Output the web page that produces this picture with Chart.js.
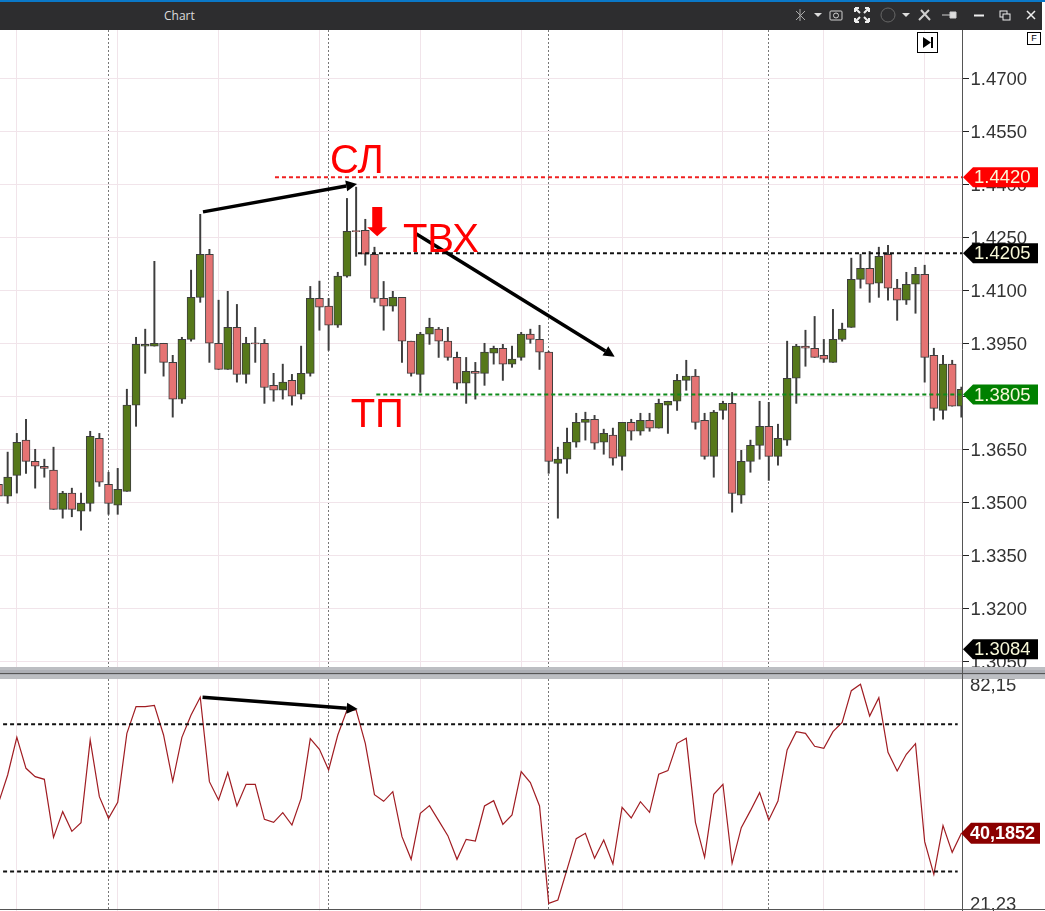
<!DOCTYPE html>
<html>
<head>
<meta charset="utf-8">
<title>Chart</title>
<script src="https://cdn.jsdelivr.net/npm/chart.js@4"></script>
<style>
  html, body { margin: 0; padding: 0; background: #fff; overflow: hidden; }
  #win { position: relative; width: 1045px; height: 911px; overflow: hidden; }
  canvas { position: absolute; left: 0; }
  #topBlue { position: absolute; left: 0; top: 0; width: 1045px; height: 2px; background: #0a78c8; }
  #bar { position: absolute; left: 0; top: 2px; width: 1042px; height: 28px; background: #2d2d2f; }
  #barTitle { position: absolute; left: 164px; top: 5px; color: #dcdcdc; font: 12px "Open Sans", sans-serif; }
  #bar svg { position: absolute; left: 0; top: -2px; }
  #sep { position: absolute; left: 0; top: 667px; width: 1045px; height: 12px; background: #bcbec2; }
  #sep div { position: absolute; left: 0; top: 3px; width: 100%; height: 5px; background: #adafb5; border-bottom: 0; }
  #sep span { position: absolute; left: 0; top: 6px; width: 100%; height: 1px; background: #555; }
  #bottomLine { position: absolute; left: 0; top: 909px; width: 1045px; height: 1px; background: #555; }
  #sepAxis { position: absolute; left: 962px; top: 667px; width: 1px; height: 12px; background: #555; }
  #jump { position: absolute; left: 917px; top: 32px; width: 19px; height: 19px; border: 1px solid #000; background: #fff; }
  #flag { position: absolute; left: 1027px; top: 32px; width: 12px; height: 11px; border: 1px solid #000; background: #fff;
          font: 9px "Liberation Sans", sans-serif; text-align: center; line-height: 11px; color: #000; }
</style>
</head>
<body>
<div id="win">
  <canvas id="priceChart" width="1045" height="638" style="top:30px"></canvas>
  <canvas id="rsiChart" width="1045" height="232" style="top:679px"></canvas>
  <div id="topBlue"></div>
  <div id="bar">
    <span id="barTitle">Chart</span>
    <svg width="1042" height="30" fill="none" stroke="#d0d0d0" stroke-width="1.5">
      <path d="M796 11l9 9M805 11l-9 9M800 9v12" stroke="#aaa" stroke-width="1"/>
      <path d="M814 13h8l-4 4z" fill="#ddd" stroke="none"/>
      <rect x="830" y="11" width="12" height="9" rx="1" stroke-width="1"/><circle cx="836" cy="15.5" r="2.5" stroke-width="1"/>
      <path d="M855 8l5 5M855 8h4M855 8v4M869 8l-5 5M869 8h-4M869 8v4M855 22l5-5M855 22h4M855 22v-4M869 22l-5-5M869 22h-4M869 22v-4" stroke="#eee" stroke-width="2"/>
      <circle cx="888" cy="15" r="7" stroke="#666" stroke-width="1"/>
      <path d="M902 13h8l-4 4z" fill="#ddd" stroke="none"/>
      <path d="M919 20l10-10M921 10l9 10" stroke-width="2"/>
      <path d="M942 15h8M950 12h6v6h-6z" fill="#ddd" stroke-width="1"/>
      <path d="M974 15.5h10" stroke="#eee" stroke-width="2"/>
      <rect x="1000" y="11" width="7" height="6" stroke="#eee" stroke-width="1"/><rect x="1003" y="14" width="7" height="6" fill="#2d2d2f" stroke="#eee" stroke-width="1"/>
      <path d="M1027 11l8 8M1035 11l-8 8" stroke="#eee" stroke-width="1.5"/>
    </svg>
  </div>
  <div id="sep"><div></div><span></span></div>
  <div id="sepAxis"></div>
  <div id="bottomLine"></div>
  <div id="jump"><svg width="19" height="19"><path d="M5 4l8 5.5l-8 5.5z" fill="#000"/><rect x="13" y="4" width="2" height="11" fill="#000"/></svg></div>
  <div id="flag">F</div>
</div>
<script>
// first bar in the arrays is number -1, it is cut by the left edge
const firstBar = -1;
const opens = [1.3551,1.3517,1.3576,1.3676,1.3616,1.3602,1.3591,1.3480,1.3526,1.3475,1.3497,1.3681,1.3551,1.3492,1.3531,1.3775,1.3942,1.3942,1.3950,1.3896,1.3792,1.3961,1.4080,1.4202,1.3950,1.3876,1.3995,1.3862,1.3951,1.3950,1.3831,1.3817,1.3845,1.3806,1.3865,1.4077,1.4055,1.4001,1.4140,1.4269,1.4270,1.4202,1.4077,1.4055,1.4080,1.3956,1.3862,1.3976,1.3990,1.3956,1.3910,1.3837,1.3871,1.3865,1.3922,1.3936,1.3891,1.3910,1.3976,1.3961,1.3925,1.3610,1.3622,1.3670,1.3726,1.3735,1.3670,1.3690,1.3630,1.3726,1.3701,1.3732,1.3710,1.3775,1.3786,1.3845,1.3857,1.3732,1.3630,1.3760,1.3780,1.3520,1.3616,1.3661,1.3715,1.3630,1.3676,1.3851,1.3942,1.3936,1.3916,1.3896,1.3961,1.3995,1.4131,1.4162,1.4120,1.4202,1.4106,1.4072,1.4117,1.4145,1.3916,1.3760,1.3891,1.3772];
const highs = [1.3570,1.3642,1.3695,1.3735,1.3650,1.3622,1.3656,1.3531,1.3540,1.3526,1.3701,1.3695,1.3585,1.3596,1.3820,1.3967,1.3990,1.4182,1.3950,1.3916,1.3967,1.4157,1.4315,1.4216,1.4072,1.4097,1.4060,1.3967,1.3995,1.3961,1.3865,1.3891,1.3862,1.3942,1.4111,1.4126,1.4077,1.4151,1.4360,1.4392,1.4301,1.4222,1.4125,1.4097,1.4080,1.3956,1.3981,1.4021,1.3995,1.3995,1.3925,1.3910,1.3896,1.3950,1.3942,1.3947,1.3942,1.3981,1.3990,1.4001,1.3927,1.3656,1.3710,1.3752,1.3755,1.3746,1.3707,1.3710,1.3726,1.3735,1.3752,1.3752,1.3792,1.3786,1.3862,1.3902,1.3876,1.3752,1.3760,1.3786,1.3811,1.3647,1.3676,1.3786,1.3783,1.3721,1.3956,1.3947,1.3987,1.4026,1.3961,1.4046,1.4007,1.4191,1.4202,1.4210,1.4222,1.4227,1.4131,1.4151,1.4165,1.4171,1.3936,1.3916,1.3902,1.3826];
const lows = [1.3505,1.3497,1.3526,1.3582,1.3540,1.3571,1.3480,1.3455,1.3459,1.3421,1.3475,1.3545,1.3466,1.3466,1.3531,1.3715,1.3865,1.3942,1.3857,1.3741,1.3780,1.3956,1.4066,1.3896,1.3876,1.3876,1.3840,1.3837,1.3896,1.3780,1.3786,1.3792,1.3775,1.3792,1.3857,1.3987,1.3930,1.3995,1.4137,1.4196,1.4171,1.4066,1.3987,1.4041,1.3896,1.3857,1.3811,1.3947,1.3910,1.3902,1.3820,1.3780,1.3792,1.3831,1.3891,1.3845,1.3882,1.3902,1.3950,1.3876,1.3582,1.3455,1.3582,1.3656,1.3676,1.3650,1.3636,1.3605,1.3591,1.3676,1.3690,1.3701,1.3710,1.3695,1.3760,1.3817,1.3707,1.3622,1.3571,1.3735,1.3472,1.3497,1.3585,1.3622,1.3562,1.3605,1.3661,1.3780,1.3885,1.3910,1.3896,1.3896,1.3956,1.3995,1.4106,1.4066,1.4080,1.4072,1.4015,1.4060,1.4035,1.3840,1.3732,1.3735,1.3772,1.3741];
const closes = [1.3517,1.3571,1.3670,1.3616,1.3602,1.3596,1.3480,1.3526,1.3480,1.3497,1.3687,1.3557,1.3497,1.3537,1.3775,1.3947,1.3947,1.3950,1.3896,1.3792,1.3961,1.4080,1.4202,1.3950,1.3876,1.3995,1.3862,1.3950,1.3948,1.3825,1.3817,1.3840,1.3800,1.3865,1.4077,1.4052,1.4001,1.4140,1.4267,1.4266,1.4202,1.4077,1.4055,1.4080,1.3956,1.3865,1.3976,1.3995,1.3956,1.3910,1.3837,1.3871,1.3865,1.3925,1.3936,1.3891,1.3905,1.3976,1.3961,1.3925,1.3616,1.3622,1.3670,1.3726,1.3735,1.3667,1.3695,1.3625,1.3726,1.3701,1.3732,1.3710,1.3780,1.3786,1.3845,1.3857,1.3726,1.3630,1.3755,1.3780,1.3525,1.3616,1.3661,1.3715,1.3630,1.3681,1.3851,1.3942,1.3936,1.3910,1.3905,1.3961,1.3990,1.4131,1.4162,1.4117,1.4196,1.4106,1.4072,1.4117,1.4145,1.3910,1.3766,1.3891,1.3772,1.3820];
const rsiValues = [49.13,56.92,67.40,58.78,56.46,55.72,39.58,46.72,41.25,43.66,66.66,50.89,44.87,49.32,68.51,75.93,75.93,76.30,68.05,55.16,67.40,73.61,78.53,55.07,49.97,57.57,48.30,54.33,54.33,44.59,43.76,46.44,43.01,50.43,67.03,64.06,58.31,68.05,75.00,75.00,65.73,51.45,49.60,52.29,39.77,33.46,46.26,48.39,44.22,40.05,33.46,39.03,38.56,48.30,49.78,43.20,45.80,57.85,54.79,48.30,21.23,22.15,30.68,39.21,40.70,33.74,38.84,32.17,47.93,44.96,49.50,46.54,57.11,58.13,65.73,67.12,43.76,34.02,51.54,54.33,32.35,42.27,47.00,52.01,44.40,49.69,63.88,68.98,68.51,64.90,64.34,68.98,71.57,80.38,82.15,73.33,78.43,63.23,58.03,62.67,65.64,38.38,29.29,42.83,35.41,40.70];

const priceTicks = [1.47,1.455,1.44,1.425,1.41,1.395,1.38,1.365,1.35,1.335,1.32,1.305];
const rsiTicks = [82.15,21.23];
const rsiLevels = [71.0,30.1];
const pinkBars = [1,12,23,34,45,56,67,78,89,100];
const dottedBars = [11,35,59,83];

const stopLoss = 1.4420, entry = 1.4205, takeProfit = 1.3805, lastLow = 1.3084;
const rsiTag = 40.7, rsiTagText = "40,1852";

const barNumbers = opens.map((v, i) => i + firstBar);
const xMin = -0.836, xMax = 104.07;

const UP = "#56781a", DOWN = "#e57373", EDGE = "#3d3d3d";
const PINK = "#f1e4ea";

function levelLine(fromBar, toBar, value, color) {
  return {
    type: "line",
    data: [{x: fromBar, y: value}, {x: toBar, y: value}],
    borderColor: color, borderWidth: 2, borderDash: [4, 3],
    pointRadius: 0, order: 0,
  };
}

function xAxis() {
  return {
    type: "linear", min: xMin, max: xMax, offset: false,
    afterBuildTicks: s => { s.ticks = pinkBars.concat(dottedBars).map(v => ({value: v})); },
    afterFit: s => { s.height = 0; s.paddingLeft = s.paddingRight = 0; },
    ticks: {display: false},
    border: {display: false, dash: c => (c.tick && dottedBars.includes(c.tick.value)) ? [2, 2] : []},
    grid: {
      offset: false,
      drawTicks: false,
      color: c => (c.tick && dottedBars.includes(c.tick.value)) ? "#777" : PINK,
    },
  };
}

// labels must not push the plot area in, the scales fill the canvas
function yFit(s) {
  s.width = 83;
  s.paddingTop = s.paddingBottom = 0;
}

function tag(ctx, tipX, y, rightX, h, color, text, textX, textColor, font) {
  ctx.save();
  ctx.fillStyle = color;
  ctx.beginPath();
  ctx.moveTo(tipX, y);
  ctx.lineTo(tipX + 10, y - h / 2);
  ctx.lineTo(rightX, y - h / 2);
  ctx.lineTo(rightX, y + h / 2);
  ctx.lineTo(tipX + 10, y + h / 2);
  ctx.closePath();
  ctx.fill();
  ctx.fillStyle = textColor;
  ctx.font = font;
  ctx.textBaseline = "middle";
  ctx.textAlign = "left";
  ctx.fillText(text, textX, y + 1);
  ctx.restore();
}

function arrow(ctx, x1, y1, x2, y2, w) {
  const a = Math.atan2(y2 - y1, x2 - x1);
  const hl = 11, hw = 5.5;
  ctx.save();
  ctx.strokeStyle = ctx.fillStyle = "#000";
  ctx.lineWidth = w;
  ctx.beginPath();
  ctx.moveTo(x1, y1);
  ctx.lineTo(x2 - hl * Math.cos(a), y2 - hl * Math.sin(a));
  ctx.stroke();
  ctx.translate(x2, y2);
  ctx.rotate(a);
  ctx.beginPath();
  ctx.moveTo(0, 0);
  ctx.lineTo(-hl, -hw);
  ctx.lineTo(-hl, hw);
  ctx.closePath();
  ctx.fill();
  ctx.restore();
}

const priceNotes = {
  id: "priceNotes",
  afterDraw(chart) {
    const {ctx, scales: {x, y}} = chart;
    const X = v => x.getPixelForValue(v), Y = v => y.getPixelForValue(v);

    arrow(ctx, X(21.3), Y(1.4322), X(38.1), Y(1.4401), 3.5);
    arrow(ctx, X(44.4), Y(1.4262), X(66.2), Y(1.3912), 3.5);

    // thick down arrow over the entry bar
    const ax = X(40.3), top = Y(1.4336), tip = Y(1.4253);
    ctx.fillStyle = "#f00";
    ctx.beginPath();
    ctx.moveTo(ax - 5, top); ctx.lineTo(ax + 5, top); ctx.lineTo(ax + 5, tip - 9);
    ctx.lineTo(ax + 10, tip - 9); ctx.lineTo(ax, tip); ctx.lineTo(ax - 10, tip - 9);
    ctx.lineTo(ax - 5, tip - 9);
    ctx.closePath();
    ctx.fill();

    ctx.font = '40px "Liberation Sans"';
    ctx.textBaseline = "alphabetic";
    ctx.textAlign = "left";
    ctx.fillText("СЛ", X(35.15), Y(1.4432));
    ctx.fillText("ТВХ", X(43.1), Y(1.4208));
    ctx.fillText("ТП", X(37.4), Y(1.3713));

    const f = '18.5px "Liberation Sans"', cream = "#f8f8d8";
    tag(ctx, 963, Y(stopLoss), 1038, 20, "#ff0000", stopLoss.toFixed(4), 974, cream, f);
    tag(ctx, 963, Y(entry), 1038, 20, "#000", entry.toFixed(4), 974, cream, f);
    tag(ctx, 963, Y(takeProfit), 1038, 20, "#008000", takeProfit.toFixed(4), 974, cream, f);
    tag(ctx, 963, Y(lastLow), 1038, 20, "#000", lastLow.toFixed(4), 974, cream, f);
  },
};

const rsiNotes = {
  id: "rsiNotes",
  afterDraw(chart) {
    const {ctx, scales: {x, y}} = chart;
    arrow(ctx, x.getPixelForValue(21.25), y.getPixelForValue(78.53),
               x.getPixelForValue(38.17), y.getPixelForValue(75.28), 3.5);
    tag(ctx, 961, y.getPixelForValue(rsiTag), 1040, 21, "#8b0000", rsiTagText, 970, "#fff", 'bold 18px "Liberation Sans"');
  },
};

new Chart(document.getElementById("priceChart").getContext("2d"), {
  type: "bar",
  data: {
    datasets: [
      levelLine(29.15, xMax, stopLoss, "#f02020"),
      levelLine(38.2, xMax, entry, "#111"),
      levelLine(40.2, xMax, takeProfit, "#0e8a1a"),
      {
        data: barNumbers.map((b, i) => ({x: b, y: [opens[i], closes[i]]})),
        backgroundColor: closes.map((c, i) => c >= opens[i] ? UP : DOWN),
        borderColor: EDGE, borderWidth: 1, borderSkipped: false,
        barThickness: 8, grouped: false, order: 1,
      },
      {
        data: barNumbers.map((b, i) => ({x: b, y: [lows[i], highs[i]]})),
        backgroundColor: EDGE, barThickness: 1.3, grouped: false, order: 2,
      },
    ],
  },
  options: {
    responsive: false, animation: false,
    layout: {padding: 0},
    plugins: {legend: {display: false}, tooltip: {enabled: false}},
    scales: {
      x: xAxis(),
      y: {
        position: "right", min: 1.3031, max: 1.48367,
        afterBuildTicks: s => { s.ticks = priceTicks.map(v => ({value: v})); },
        afterFit: yFit,
        border: {color: "#555", width: 1},
        grid: {color: PINK, tickColor: "#222", tickLength: 7},
        ticks: {
          padding: 1.5, color: "#333", autoSkip: false, labelOffset: 1.5,
          font: {family: "Liberation Sans", size: 18.5},
          callback: v => v.toFixed(4),
        },
      },
    },
  },
  plugins: [priceNotes],
});

new Chart(document.getElementById("rsiChart").getContext("2d"), {
  type: "line",
  data: {
    datasets: [
      levelLine(-0.5, 103.6, rsiLevels[0], "#111"),
      levelLine(-0.5, 103.6, rsiLevels[1], "#111"),
      {
        data: barNumbers.map((b, i) => ({x: b, y: rsiValues[i]})),
        borderColor: "#a01c22", borderWidth: 1.2, pointRadius: 0, tension: 0, order: 1,
      },
    ],
  },
  options: {
    responsive: false, animation: false,
    layout: {padding: 0},
    plugins: {legend: {display: false}, tooltip: {enabled: false}},
    scales: {
      x: xAxis(),
      y: {
        position: "right", min: 19.09, max: 83.62,
        afterBuildTicks: s => { s.ticks = rsiTicks.map(v => ({value: v})); },
        afterFit: yFit,
        border: {color: "#555", width: 1},
        grid: {display: false, drawTicks: false},
        ticks: {
          padding: 8, color: "#333", autoSkip: false, labelOffset: 1.5,
          font: {family: "Liberation Sans", size: 18.5},
          callback: v => v.toFixed(2).replace(".", ","),
        },
      },
    },
  },
  plugins: [rsiNotes],
});
</script>
</body>
</html>
